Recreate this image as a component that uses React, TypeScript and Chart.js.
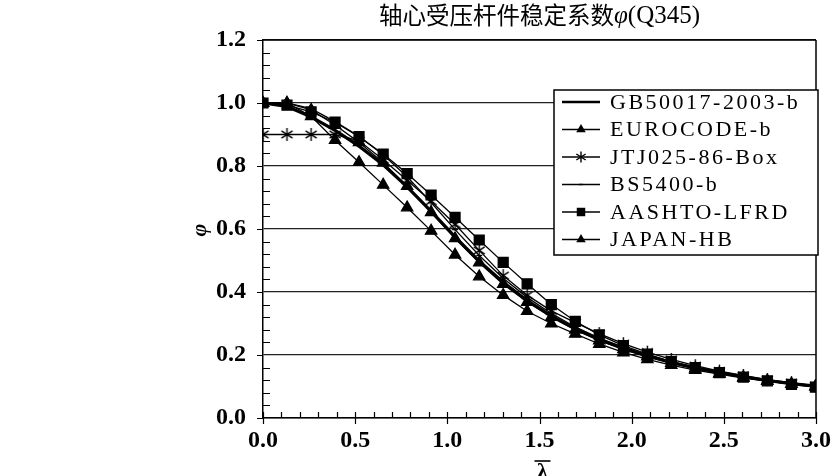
import React, { useEffect, useRef } from 'react';
import { Chart, registerables } from 'chart.js';

Chart.register(...registerables);

// Normalized slenderness (x values)
const LAMBDA = [0, 0.130, 0.261, 0.391, 0.521, 0.652, 0.782, 0.912, 1.042, 1.173, 1.303, 1.433,
  1.564, 1.694, 1.824, 1.955, 2.085, 2.215, 2.345, 2.476, 2.606, 2.736, 2.867, 2.997];

const GB = [1.0, 0.989, 0.956, 0.913, 0.863, 0.804, 0.734, 0.656, 0.575, 0.498, 0.431, 0.373,
  0.324, 0.283, 0.249, 0.221, 0.197, 0.176, 0.159, 0.144, 0.131, 0.119, 0.109, 0.101];
const EURO = [1.0, 1.0, 0.978, 0.930, 0.875, 0.810, 0.736, 0.653, 0.570, 0.493, 0.425, 0.368,
  0.320, 0.280, 0.246, 0.218, 0.195, 0.174, 0.157, 0.142, 0.129, 0.118, 0.108, 0.100];
const JTJ = [0.9, 0.9, 0.9, 0.9, 0.88, 0.82, 0.755, 0.688, 0.615, 0.532, 0.452, 0.39,
  0.34, 0.303, 0.268, 0.236, 0.209, 0.186, 0.166, 0.149, 0.135, 0.122, 0.112, 0.102];
const BS = [1.0, 1.0, 0.982, 0.941, 0.894, 0.836, 0.766, 0.684, 0.598, 0.516, 0.444, 0.383,
  0.332, 0.289, 0.254, 0.225, 0.200, 0.179, 0.161, 0.146, 0.132, 0.121, 0.110, 0.102];
const AASHTO = [1.0, 0.993, 0.972, 0.939, 0.893, 0.838, 0.776, 0.708, 0.637, 0.565, 0.494, 0.426,
  0.360, 0.307, 0.264, 0.230, 0.203, 0.179, 0.160, 0.144, 0.130, 0.118, 0.107, 0.098];
const JAPAN = [1.0, 1.0, 0.958, 0.882, 0.812, 0.740, 0.668, 0.594, 0.518, 0.449, 0.390, 0.339,
  0.300, 0.267, 0.235, 0.208, 0.186, 0.168, 0.152, 0.139, 0.127, 0.117, 0.108, 0.100];

const SERIES_LABELS = ['GB50017-2003-b', 'EUROCODE-b', 'JTJ025-86-Box', 'BS5400-b', 'AASHTO-LFRD', 'JAPAN-HB'];
const X_TICKS = [0, 0.5, 1.0, 1.5, 2.0, 2.5, 3.0];
const Y_TICKS = [0, 0.2, 0.4, 0.6, 0.8, 1.0, 1.2];
const TITLE_CN = '轴心受压杆件稳定系数';
const TITLE_SYM = 'φ';
const TITLE_TAIL = '(Q345)';
const X_TITLE = 'λ';
const Y_TITLE = 'φ';

const SERIF = '"Liberation Serif", "Times New Roman", serif';

type Marker = 'none' | 'triangle' | 'star' | 'line' | 'rect';

function drawMarker(ctx: CanvasRenderingContext2D, style: Marker, x: number, y: number, r: number) {
  ctx.save();
  ctx.fillStyle = '#000';
  ctx.strokeStyle = '#000';
  ctx.lineWidth = 1.4;
  ctx.beginPath();
  if (style === 'triangle') {
    ctx.moveTo(x, y - r);
    ctx.lineTo(x + 0.866 * r, y + 0.5 * r);
    ctx.lineTo(x - 0.866 * r, y + 0.5 * r);
    ctx.closePath();
    ctx.fill();
  } else if (style === 'rect') {
    const s = Math.SQRT1_2 * r;
    ctx.rect(x - s, y - s, 2 * s, 2 * s);
    ctx.fill();
  } else if (style === 'star') {
    const dx = 0.85 * r, dy = 0.55 * r;
    ctx.moveTo(x - dx, y - dy); ctx.lineTo(x + dx, y + dy);
    ctx.moveTo(x - dx, y + dy); ctx.lineTo(x + dx, y - dy);
    ctx.moveTo(x, y - r); ctx.lineTo(x, y + r);
    ctx.stroke();
  } else if (style === 'line') {
    ctx.moveTo(x - r, y); ctx.lineTo(x + r, y);
    ctx.stroke();
  }
  ctx.restore();
}

function makeStarCanvas(r: number): HTMLCanvasElement {
  const c = document.createElement('canvas');
  const size = Math.ceil(2 * r + 4);
  c.width = size; c.height = size;
  const cx = c.getContext('2d');
  if (cx) drawMarker(cx, 'star', size / 2, size / 2, r);
  return c;
}

const STYLES: { marker: Marker; radius: number; width: number }[] = [
  { marker: 'none', radius: 0, width: 3.2 },
  { marker: 'triangle', radius: 6.5, width: 1.3 },
  { marker: 'star', radius: 6.5, width: 1.3 },
  { marker: 'line', radius: 3, width: 1.3 },
  { marker: 'rect', radius: 7, width: 1.3 },
  { marker: 'triangle', radius: 6.5, width: 1.3 },
];

const decorPlugin = {
  id: 'decor',
  afterDraw(chart: any) {
    const ctx: CanvasRenderingContext2D = chart.ctx;
    const { left, right, top, bottom } = chart.chartArea;
    const xs = chart.scales.x;
    const ys = chart.scales.y;
    ctx.save();
    ctx.strokeStyle = '#000';
    ctx.lineWidth = 1.5;
    ctx.beginPath();
    ctx.moveTo(right, top); ctx.lineTo(right, bottom);
    ctx.moveTo(left, top); ctx.lineTo(right, top);
    ctx.stroke();
    ctx.lineWidth = 1.2;
    ctx.beginPath();
    for (let k = 0; k <= 30; k++) {
      const v = k * 0.04;
      const py = Math.round(ys.getPixelForValue(v)) + 0.5;
      if (k % 5 === 0) {
        ctx.moveTo(left - 6, py); ctx.lineTo(left, py);
      } else {
        ctx.moveTo(left, py); ctx.lineTo(left + 7, py);
      }
    }
    for (let k = 0; k <= 30; k++) {
      const v = k * 0.1;
      const px = Math.round(xs.getPixelForValue(v)) + 0.5;
      if (k % 5 === 0) {
        ctx.moveTo(px, bottom - 6); ctx.lineTo(px, bottom + 6);
      } else {
        ctx.moveTo(px, bottom - 6); ctx.lineTo(px, bottom);
      }
    }
    ctx.stroke();

    // Title
    ctx.fillStyle = '#000';
    ctx.textBaseline = 'middle';
    const fCn = '23.5px "Noto Sans CJK SC", sans-serif';
    const fSym = 'italic 25px ' + SERIF;
    const fTail = '25px ' + SERIF;
    ctx.font = fCn; const w1 = ctx.measureText(TITLE_CN).width;
    ctx.font = fSym; const w2 = ctx.measureText(TITLE_SYM).width;
    ctx.font = fTail; const w3 = ctx.measureText(TITLE_TAIL).width;
    let tx = (left + right) / 2 - (w1 + w2 + w3) / 2;
    const ty = 15;
    ctx.textAlign = 'left';
    ctx.font = fCn; ctx.fillText(TITLE_CN, tx, ty); tx += w1;
    ctx.font = fSym; ctx.fillText(TITLE_SYM, tx, ty + 1); tx += w2;
    ctx.font = fTail; ctx.fillText(TITLE_TAIL, tx, ty + 1);

    // Y title (rotated)
    ctx.save();
    ctx.translate(200, 230);
    ctx.rotate(-Math.PI / 2);
    ctx.textAlign = 'center';
    ctx.font = 'italic bold 22px ' + SERIF;
    ctx.fillText(Y_TITLE, 0, 0);
    ctx.restore();

    // X title with overbar
    ctx.textAlign = 'center';
    ctx.font = 'bold 22px ' + SERIF;
    const xt = (left + right) / 2 + 3;
    ctx.fillText(X_TITLE, xt, 472);
    ctx.lineWidth = 1.6;
    ctx.beginPath();
    ctx.moveTo(xt - 8, 461); ctx.lineTo(xt + 8, 461);
    ctx.stroke();

    // Legend
    const lx = 554, ly = 90, lw = 264, lh = 165;
    ctx.fillStyle = '#fff';
    ctx.fillRect(lx, ly, lw, lh);
    ctx.strokeStyle = '#000';
    ctx.lineWidth = 1.5;
    ctx.strokeRect(lx, ly, lw, lh);
    ctx.fillStyle = '#000';
    ctx.textAlign = 'left';
    ctx.font = '22px ' + SERIF;
    (ctx as any).letterSpacing = '2.5px';
    SERIES_LABELS.forEach((lab, i) => {
      const cy = 102 + i * 27.5;
      const st = STYLES[i];
      ctx.lineWidth = i === 0 ? 2.5 : 1.3;
      ctx.beginPath();
      ctx.moveTo(562, cy); ctx.lineTo(600, cy);
      ctx.stroke();
      if (st.marker !== 'none') drawMarker(ctx, st.marker, 581, cy, st.marker === 'line' ? 2 : st.radius - 1);
      ctx.fillText(lab, 610, cy + 1);
    });
    (ctx as any).letterSpacing = '0px';
    ctx.restore();
  },
};

export default function App() {
  const ref = useRef<HTMLCanvasElement | null>(null);
  useEffect(() => {
    if (!ref.current) return;
    const starImg = makeStarCanvas(6.5);
    const all = [GB, EURO, JTJ, BS, AASHTO, JAPAN];
    const datasets = all.map((arr, i) => {
      const st = STYLES[i];
      return {
        label: SERIES_LABELS[i],
        data: LAMBDA.map((x, j) => ({ x, y: arr[j] })),
        borderColor: '#000',
        backgroundColor: '#000',
        borderWidth: st.width,
        pointStyle: st.marker === 'none' ? 'circle' : st.marker === 'star' ? starImg : st.marker,
        pointRadius: st.radius,
        pointBorderWidth: 1.3,
        pointBorderColor: '#000',
        pointBackgroundColor: '#000',
        tension: 0,
        fill: false,
      };
    });
    const tickFont = { family: SERIF, size: 24, weight: 'bold' as const };
    const chart = new Chart(ref.current, {
      type: 'line',
      data: { datasets: datasets as any },
      plugins: [decorPlugin],
      options: {
        animation: false,
        responsive: true,
        maintainAspectRatio: false,
        layout: { padding: { top: 40, right: 18, left: 0, bottom: 0 } },
        plugins: { legend: { display: false }, title: { display: false }, tooltip: { enabled: false } },
        scales: {
          x: {
            type: 'linear',
            min: 0,
            max: 3,
            afterBuildTicks: (s: any) => { s.ticks = X_TICKS.map((v) => ({ value: v })); },
            afterFit: (s: any) => { s.height = 58; },
            ticks: { font: tickFont, color: '#000', padding: 8, maxRotation: 0, autoSkip: false, callback: (v: any) => Number(v).toFixed(1) },
            grid: { display: false, drawTicks: false },
            border: { display: true, color: '#000', width: 1.5 },
          },
          y: {
            type: 'linear',
            min: 0,
            max: 1.2,
            afterBuildTicks: (s: any) => { s.ticks = Y_TICKS.map((v) => ({ value: v })); },
            afterFit: (s: any) => { s.width = 263; },
            ticks: { font: tickFont, color: '#000', padding: 17, autoSkip: false, callback: (v: any) => Number(v).toFixed(1) },
            grid: { color: '#222', lineWidth: 1.3, drawTicks: false },
            border: { display: true, color: '#000', width: 1.5 },
          },
        },
      },
    } as any);
    return () => chart.destroy();
  }, []);
  return (
    <div style={{ position: 'absolute', left: 0, top: 0, width: 839, height: 476, background: '#fff' }}>
      <canvas ref={ref} />
    </div>
  );
}
